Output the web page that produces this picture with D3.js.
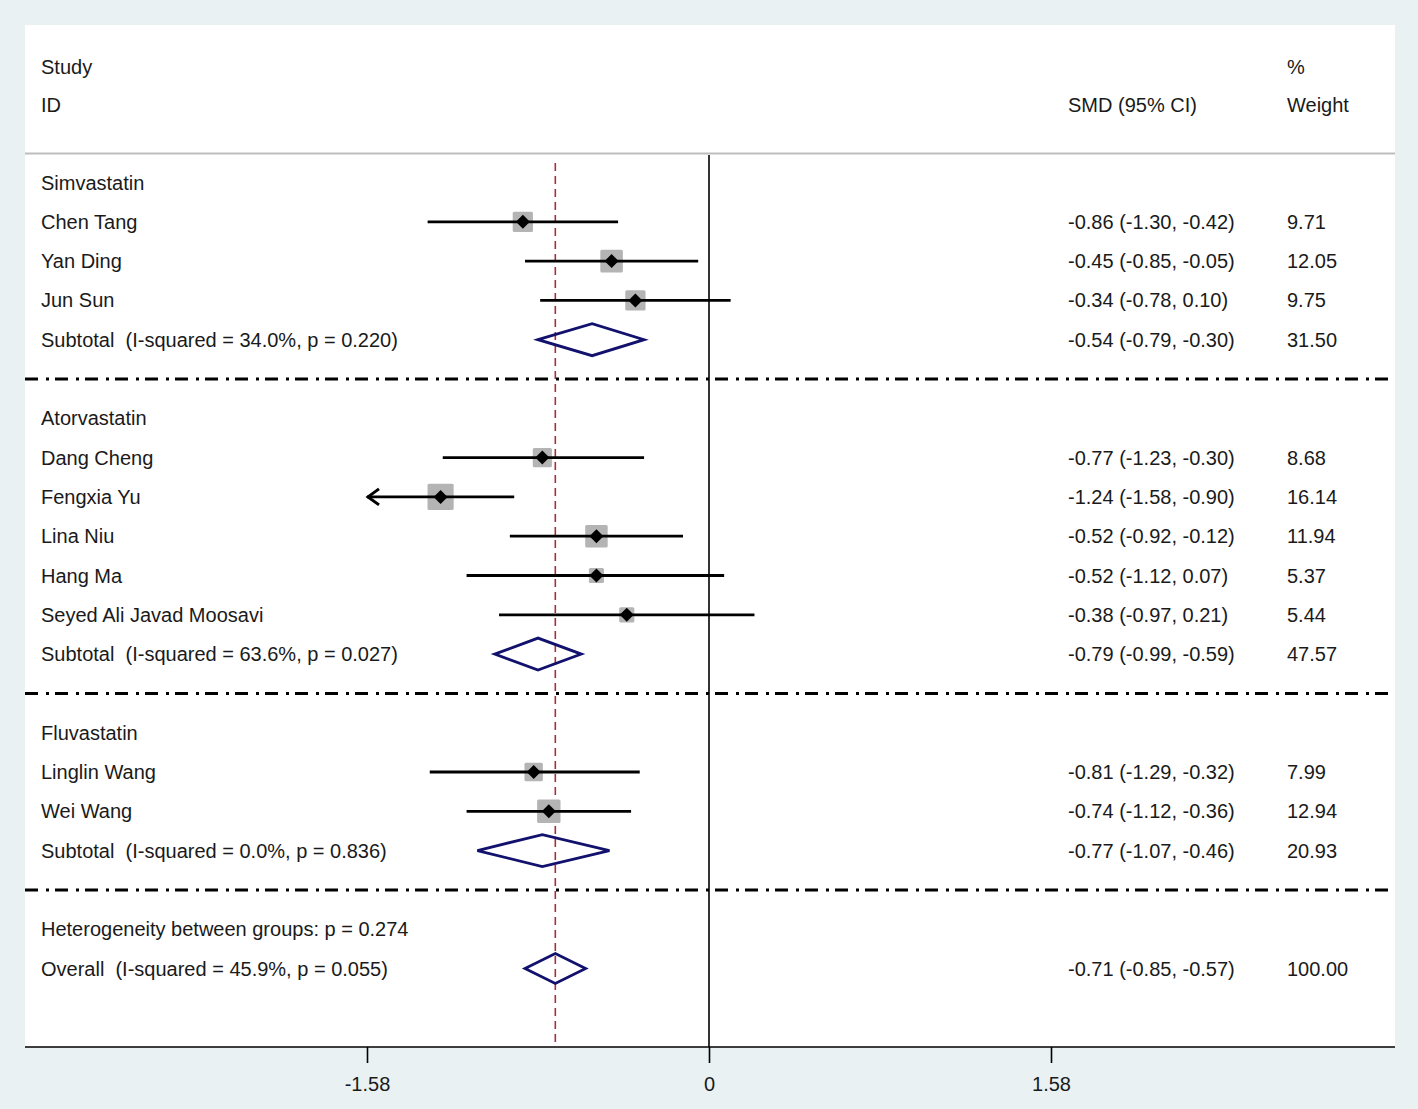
<!DOCTYPE html>
<html><head><meta charset="utf-8">
<script src="https://cdn.jsdelivr.net/npm/d3@7"></script>
<style>body{margin:0;background:#e9f1f2}svg{display:block}text{font-family:Arial,"Liberation Sans",sans-serif;fill:#1a1a1a;white-space:pre}</style>
</head><body><svg id="c" width="1418" height="1109"></svg>
<script>
// ---- data ----
const rowKinds = ["group","study","study","study","subtotal","sep","group","study","study","study","study","study","subtotal","sep","group","study","study","subtotal","sep","het","overall"];
const rowLabels = ["Simvastatin","Chen Tang","Yan Ding","Jun Sun","Subtotal  (I-squared = 34.0%, p = 0.220)","",
  "Atorvastatin","Dang Cheng","Fengxia Yu","Lina Niu","Hang Ma","Seyed Ali Javad Moosavi","Subtotal  (I-squared = 63.6%, p = 0.027)","",
  "Fluvastatin","Linglin Wang","Wei Wang","Subtotal  (I-squared = 0.0%, p = 0.836)","",
  "Heterogeneity between groups: p = 0.274","Overall  (I-squared = 45.9%, p = 0.055)"];
const smd   = [null,-0.86,-0.45,-0.34,-0.54,null,null,-0.77,-1.24,-0.52,-0.52,-0.38,-0.79,null,null,-0.81,-0.74,-0.77,null,null,-0.71];
const lower = [null,-1.30,-0.85,-0.78,-0.79,null,null,-1.23,-1.58,-0.92,-1.12,-0.97,-0.99,null,null,-1.29,-1.12,-1.07,null,null,-0.85];
const upper = [null,-0.42,-0.05,0.10,-0.30,null,null,-0.30,-0.90,-0.12,0.07,0.21,-0.59,null,null,-0.32,-0.36,-0.46,null,null,-0.57];
const weight= [null,9.71,12.05,9.75,31.50,null,null,8.68,16.14,11.94,5.37,5.44,47.57,null,null,7.99,12.94,20.93,null,null,100.00];
const tickValues = [-1.58, 0, 1.58];
const tickLabels = ["-1.58","0","1.58"];
const overallEffect = -0.71;

// ---- layout ----
const svg = d3.select("#c");
const W = 1418, H = 1109;
const panel = {x0:25, x1:1395, y0:25, y1:1047};
const x = d3.scaleLinear().domain([-1.58,1.58]).range([367,1051]);
const y = d3.scaleLinear().domain([0,20]).range([182.5,968.5]);
const fs = 20;

svg.append("rect").attr("width",W).attr("height",H).attr("fill","#e9f1f2");
svg.append("rect").attr("x",panel.x0).attr("y",panel.y0).attr("width",panel.x1-panel.x0).attr("height",panel.y1-panel.y0).attr("fill","#fff");

// header
const hdr = svg.append("g").attr("font-size",fs);
hdr.append("text").attr("x",41).attr("y",66.5).attr("dy","0.35em").text("Study");
hdr.append("text").attr("x",41).attr("y",104.5).attr("dy","0.35em").text("ID");
hdr.append("text").attr("x",1068).attr("y",104.5).attr("dy","0.35em").text("SMD (95% CI)");
hdr.append("text").attr("x",1287).attr("y",66.5).attr("dy","0.35em").text("%");
hdr.append("text").attr("x",1287).attr("y",104.5).attr("dy","0.35em").text("Weight");
svg.append("line").attr("x1",panel.x0).attr("x2",panel.x1).attr("y1",153.5).attr("y2",153.5).attr("stroke","#bdbdbd").attr("stroke-width",2);

// zero line and overall line
svg.append("line").attr("x1",x(0)).attr("x2",x(0)).attr("y1",155).attr("y2",panel.y1).attr("stroke","#000").attr("stroke-width",1.6);
svg.append("line").attr("x1",x(overallEffect)).attr("x2",x(overallEffect)).attr("y1",163).attr("y2",panel.y1)
  .attr("stroke","#a4303a").attr("stroke-width",1.6).attr("stroke-dasharray","8,5");

const rows = rowKinds.map((k,i)=>({k,i,label:rowLabels[i],es:smd[i],lo:lower[i],hi:upper[i],w:weight[i]}));

// separators
svg.selectAll("line.sep").data(rows.filter(r=>r.k==="sep")).join("line").attr("class","sep")
  .attr("x1",panel.x0).attr("x2",panel.x1).attr("y1",d=>y(d.i)).attr("y2",d=>y(d.i))
  .attr("stroke","#000").attr("stroke-width",3).attr("stroke-dasharray","13,8,3,6");

// labels
svg.append("g").attr("font-size",fs).selectAll("text").data(rows.filter(r=>r.k!=="sep")).join("text")
  .attr("x",41).attr("y",d=>y(d.i)).attr("dy","0.35em").text(d=>d.label);

const f = v => v.toFixed(2);
const est = rows.filter(r=>r.es!==null);
svg.append("g").attr("font-size",fs).selectAll("text").data(est).join("text")
  .attr("x",1068).attr("y",d=>y(d.i)).attr("dy","0.35em").text(d=>`${f(d.es)} (${f(d.lo)}, ${f(d.hi)})`);
svg.append("g").attr("font-size",fs).selectAll("text").data(est).join("text")
  .attr("x",1287).attr("y",d=>y(d.i)).attr("dy","0.35em").text(d=>f(d.w));

// studies
const studies = rows.filter(r=>r.k==="study");
const xmin = x.domain()[0];
const sq = w => 6.5*Math.sqrt(w);
const g = svg.append("g");
g.selectAll("rect.box").data(studies).join("rect").attr("class","box")
  .attr("x",d=>x(d.es)-sq(d.w)/2).attr("y",d=>y(d.i)-sq(d.w)/2).attr("width",d=>sq(d.w)).attr("height",d=>sq(d.w))
  .attr("rx",1.5).attr("fill","#b4b4b4");
g.selectAll("line.ci").data(studies).join("line").attr("class","ci")
  .attr("x1",d=>x(Math.max(d.lo,xmin))).attr("x2",d=>x(d.hi)).attr("y1",d=>y(d.i)).attr("y2",d=>y(d.i))
  .attr("stroke","#000").attr("stroke-width",2.8);
g.selectAll("path.arrow").data(studies.filter(d=>d.lo<=xmin)).join("path").attr("class","arrow")
  .attr("d",d=>{const X=x(xmin),Y=y(d.i);return `M${X+12},${Y-8}L${X+1},${Y}L${X+12},${Y+8}`;})
  .attr("fill","none").attr("stroke","#000").attr("stroke-width",3);
g.selectAll("path.pt").data(studies).join("path").attr("class","pt")
  .attr("d",d=>{const X=x(d.es),Y=y(d.i),r=7;return `M${X-r},${Y}L${X},${Y-r}L${X+r},${Y}L${X},${Y+r}Z`;})
  .attr("fill","#000");

// pooled diamonds
const pooled = rows.filter(r=>r.k==="subtotal"||r.k==="overall");
g.selectAll("path.dia").data(pooled).join("path").attr("class","dia")
  .attr("d",d=>{const Y=y(d.i),h=d.k==="overall"?15:16;return `M${x(d.lo)},${Y}L${x(d.es)},${Y-h}L${x(d.hi)},${Y}L${x(d.es)},${Y+h}Z`;})
  .attr("fill","none").attr("stroke","#12126e").attr("stroke-width",2.8);

// axis
svg.append("line").attr("x1",panel.x0).attr("x2",panel.x1).attr("y1",panel.y1).attr("y2",panel.y1).attr("stroke","#000").attr("stroke-width",1.6);
const axis = d3.axisBottom(x).tickValues(tickValues).tickFormat((d,i)=>tickLabels[i]).tickSize(16).tickPadding(14).tickSizeOuter(0);
const ax = svg.append("g").attr("transform",`translate(0,${panel.y1})`).call(axis);
ax.select(".domain").remove();
ax.selectAll(".tick line").attr("stroke","#000").attr("stroke-width",1.6);
ax.selectAll(".tick text").attr("font-size",fs).attr("font-family","Arial, 'Liberation Sans', sans-serif").attr("fill","#1a1a1a");
</script></body></html>
